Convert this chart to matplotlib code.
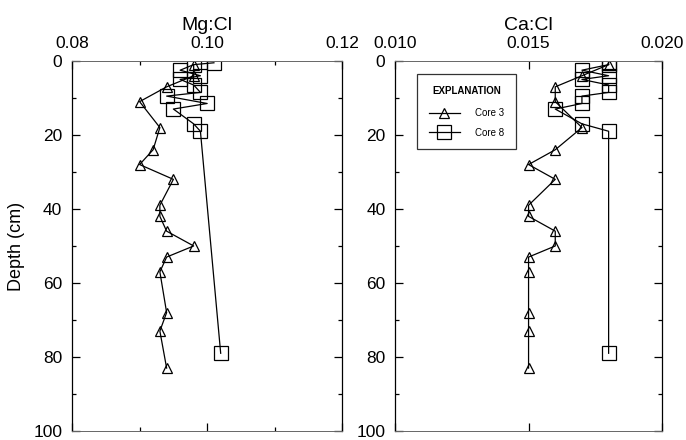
import matplotlib
matplotlib.use("Agg")
import matplotlib.pyplot as plt
from matplotlib.ticker import MultipleLocator

plt.rcParams['font.family'] = ['Liberation Sans', 'DejaVu Sans']

# core 3 (triangles)
depth3 = [1, 4, 7, 11, 18, 24, 28, 32, 39, 42, 46, 50, 53, 57, 68, 73, 83]
mgcl3 = [0.098, 0.098, 0.094, 0.090, 0.093, 0.092, 0.090, 0.095, 0.093,
         0.093, 0.094, 0.098, 0.094, 0.093, 0.094, 0.093, 0.094]
cacl3 = [0.018, 0.017, 0.016, 0.016, 0.017, 0.016, 0.015, 0.016, 0.015,
         0.015, 0.016, 0.016, 0.015, 0.015, 0.015, 0.015, 0.015]

# core 8 (squares)
depth8 = [0.5, 1, 2.5, 4, 5, 6.5, 8.5, 9.5, 11.5, 13, 17, 19, 79]
mgcl8 = [0.101, 0.098, 0.096, 0.099, 0.096, 0.098, 0.099, 0.094, 0.100,
         0.095, 0.098, 0.099, 0.102]
cacl8 = [0.018, 0.018, 0.017, 0.018, 0.017, 0.018, 0.018, 0.017, 0.017,
         0.016, 0.017, 0.018, 0.018]

fig = plt.figure(figsize=(6.86, 4.4), dpi=100)
ax1 = fig.add_axes([0.105, 0.0205, 0.394, 0.841])
ax2 = fig.add_axes([0.576, 0.0205, 0.389, 0.841])

tri = dict(marker='^', color='black', lw=0.9, ms=7, mfc='none', mew=0.9)
sq = dict(marker='s', color='black', lw=0.9, ms=10, mfc='none', mew=0.9)

ax1.plot(mgcl3, depth3, **tri)
ax1.plot(mgcl8, depth8, **sq)
ax2.plot(cacl3, depth3, label='Core 3', **tri)
ax2.plot(cacl8, depth8, label='Core 8', **sq)

ax1.set_xlim(0.08, 0.12)
ax1.xaxis.set_minor_locator(MultipleLocator(0.01))
ax1.set_xticks([0.08, 0.10, 0.12])
ax1.set_xticklabels(['0.08', '0.10', '0.12'])
ax2.set_xlim(0.010, 0.020)
ax2.set_xticks([0.010, 0.015, 0.020])
ax2.set_xticklabels(['0.010', '0.015', '0.020'])

for ax, title in ((ax1, 'Mg:Cl'), (ax2, 'Ca:Cl')):
    ax.set_ylim(100, 0)
    ax.yaxis.set_major_locator(MultipleLocator(20))
    ax.yaxis.set_minor_locator(MultipleLocator(10))
    ax.xaxis.tick_top()
    ax.tick_params(which='both', direction='in', top=True, bottom=True,
                   left=True, right=True, labeltop=True, labelbottom=False,
                   labelsize=12.5, width=0.9)
    ax.tick_params(which='major', length=6, pad=7)
    ax.tick_params(which='minor', length=3)
    ax.set_title(title, fontsize=14, pad=22)
    for side in ('top', 'bottom'):
        ax.spines[side].set_color('0.4')
        ax.spines[side].set_linewidth(0.7)
    for side in ('left', 'right'):
        ax.spines[side].set_linewidth(0.9)

ax1.set_ylabel('Depth (cm)', fontsize=13, labelpad=6)

leg = ax2.legend(loc='upper left', bbox_to_anchor=(0.082, 0.965),
                 title='EXPLANATION', fontsize=7, title_fontsize=7,
                 frameon=True, fancybox=False, edgecolor='black',
                 handlelength=3.2, borderpad=1.2, labelspacing=1.0,
                 handletextpad=1.6, borderaxespad=0)
leg.get_title().set_fontweight('bold')
leg.get_frame().set_linewidth(0.9)
leg._legend_box.sep = 9

fig.savefig('out.png', dpi=100)
